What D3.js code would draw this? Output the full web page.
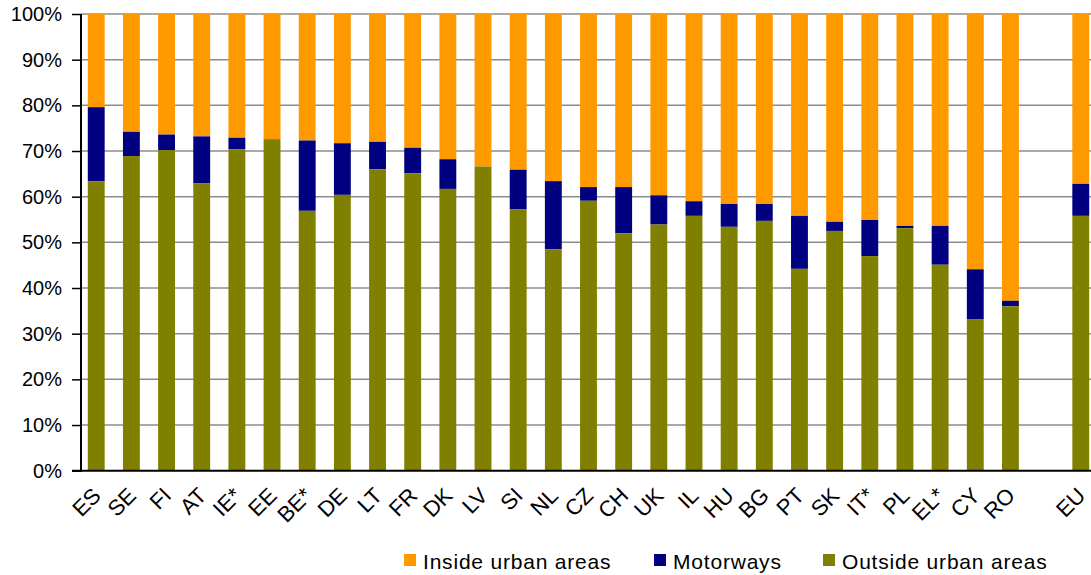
<!DOCTYPE html>
<html><head><meta charset="utf-8">
<script src="https://cdn.jsdelivr.net/npm/d3@7"></script>
<style>body{margin:0;background:#fff}svg{display:block;font-family:"Liberation Sans",Arial,sans-serif}</style>
</head><body>
<svg id="c" width="1091" height="575"></svg>
<script>
const categories = ["ES","SE","FI","AT","IE*","EE","BE*","DE","LT","FR","DK","LV","SI","NL","CZ","CH","UK","IL","HU","BG","PT","SK","IT*","PL","EL*","CY","RO","","EU"];
const outsideUrban = [63.4,68.9,70.2,62.9,70.4,72.6,56.9,60.4,66.0,65.1,61.7,66.6,57.2,48.5,59.1,52.0,53.9,55.8,53.4,54.7,44.2,52.5,47.0,53.1,45.1,33.1,36.0,null,55.8];
const motorways = [16.2,5.3,3.4,10.3,2.5,0,15.4,11.3,6.0,5.6,6.5,0,8.7,14.9,3.0,10.1,6.4,3.2,5.0,3.7,11.6,2.0,7.9,0.5,8.5,11.0,1.2,null,7.0];
const seriesNames = ["Inside urban areas","Motorways","Outside urban areas"];
const seriesColors = ["#FF9900","#000080","#808000"];
const yTicks = [0,10,20,30,40,50,60,70,80,90,100];

const svg = d3.select("#c");
const x = d3.scaleBand().domain(categories).range([79,1098]).paddingInner(0.52).paddingOuter(0.25);
const y = d3.scaleLinear().domain([0,100]).range([470.7,14]);

// gridlines
svg.append("g").selectAll("line").data(yTicks.slice(1)).join("line")
  .attr("x1",81).attr("x2",1091).attr("y1",d=>y(d)).attr("y2",d=>y(d))
  .attr("stroke","#8c8c8c").attr("stroke-width",1.5);

// stacks
const rows = categories.map((c,i)=>({c, out:outsideUrban[i], mot:motorways[i]})).filter(d=>d.c!=="");
const g = svg.append("g");
rows.forEach(d=>{
  const top1 = d.out, top2 = d.out + d.mot;
  g.append("rect").attr("x",x(d.c)).attr("width",x.bandwidth()).attr("y",y(100)).attr("height",y(top2)-y(100)).attr("fill",seriesColors[0]);
  if (d.mot>0) g.append("rect").attr("x",x(d.c)).attr("width",x.bandwidth()).attr("y",y(top2)).attr("height",y(top1)-y(top2)).attr("fill",seriesColors[1]);
  g.append("rect").attr("x",x(d.c)).attr("width",x.bandwidth()).attr("y",y(top1)).attr("height",y(0)-y(top1)).attr("fill",seriesColors[2]);
});

// y axis
const ya = svg.append("g").attr("transform","translate(81,0)")
  .call(d3.axisLeft(y).tickValues(yTicks).tickFormat(d=>d+"%").tickSize(9).tickPadding(10));
ya.select(".domain").remove();
ya.selectAll(".tick line").attr("stroke","#000").attr("stroke-width",1.5);
ya.selectAll("text").attr("font-size",20).attr("fill","#000").attr("font-family","Liberation Sans, Arial, sans-serif");
svg.append("line").attr("x1",81).attr("x2",81).attr("y1",y(100)).attr("y2",y(0)+1).attr("stroke","#000").attr("stroke-width",2);
svg.append("line").attr("x1",72).attr("x2",1091).attr("y1",y(0)).attr("y2",y(0)).attr("stroke","#000").attr("stroke-width",2);

// x labels
svg.append("g").selectAll("text").data(categories.filter(c=>c!=="")).join("text")
  .attr("transform",d=>`translate(${x(d)+x.bandwidth()/2+6},${497}) rotate(-45)`)
  .attr("text-anchor","end").attr("font-size",22).attr("fill","#000").text(d=>d);

// legend
const legendX = [404,654,823];
const lg = svg.append("g");
seriesNames.forEach((n,i)=>{
  lg.append("rect").attr("x",legendX[i]).attr("y",554).attr("width",12).attr("height",12).attr("fill",seriesColors[i]);
  lg.append("text").attr("x",legendX[i]+19).attr("y",569).attr("font-size",21).attr("letter-spacing",0.8).attr("fill","#000").text(n);
});
</script>
</body></html>
